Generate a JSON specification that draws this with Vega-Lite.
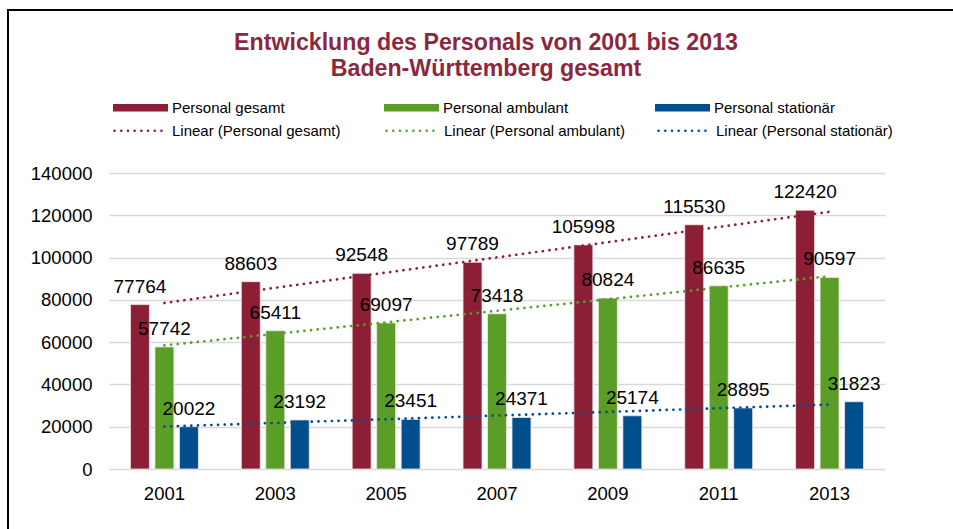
{
  "$schema": "https://vega.github.io/schema/vega-lite/v6.json",
  "width": 978,
  "height": 530,
  "autosize": {"type": "none"},
  "padding": {"left": 8, "top": 10, "right": 0, "bottom": 0},
  "config": {
    "font": "Liberation Sans",
    "view": {"stroke": "#000000", "strokeWidth": 2},
    "axis": {"labelFont": "Liberation Sans", "labelColor": "#000000"}
  },
  "title": {
    "text": ["Entwicklung des Personals von 2001 bis 2013", "Baden-Württemberg gesamt"],
    "anchor": "middle",
    "frame": "group",
    "dx": -11,
    "offset": -71,
    "baseline": "top",
    "fontSize": 23.2,
    "lineHeight": 26,
    "fontWeight": "bold",
    "font": "Liberation Sans",
    "color": "#8B2840"
  },
  "datasets": {
    "bars": [
      {"year": "2001", "series": "Personal gesamt", "value": 77764},
      {"year": "2001", "series": "Personal ambulant", "value": 57742},
      {"year": "2001", "series": "Personal stationär", "value": 20022},
      {"year": "2003", "series": "Personal gesamt", "value": 88603},
      {"year": "2003", "series": "Personal ambulant", "value": 65411},
      {"year": "2003", "series": "Personal stationär", "value": 23192},
      {"year": "2005", "series": "Personal gesamt", "value": 92548},
      {"year": "2005", "series": "Personal ambulant", "value": 69097},
      {"year": "2005", "series": "Personal stationär", "value": 23451},
      {"year": "2007", "series": "Personal gesamt", "value": 97789},
      {"year": "2007", "series": "Personal ambulant", "value": 73418},
      {"year": "2007", "series": "Personal stationär", "value": 24371},
      {"year": "2009", "series": "Personal gesamt", "value": 105998},
      {"year": "2009", "series": "Personal ambulant", "value": 80824},
      {"year": "2009", "series": "Personal stationär", "value": 25174},
      {"year": "2011", "series": "Personal gesamt", "value": 115530},
      {"year": "2011", "series": "Personal ambulant", "value": 86635},
      {"year": "2011", "series": "Personal stationär", "value": 28895},
      {"year": "2013", "series": "Personal gesamt", "value": 122420},
      {"year": "2013", "series": "Personal ambulant", "value": 90597},
      {"year": "2013", "series": "Personal stationär", "value": 31823}
    ],
    "trend": [
      {"year": "2001", "series": "Linear (Personal gesamt)", "value": 78528},
      {"year": "2013", "series": "Linear (Personal gesamt)", "value": 121658},
      {"year": "2001", "series": "Linear (Personal ambulant)", "value": 58453},
      {"year": "2013", "series": "Linear (Personal ambulant)", "value": 91183},
      {"year": "2001", "series": "Linear (Personal stationär)", "value": 20075},
      {"year": "2013", "series": "Linear (Personal stationär)", "value": 30475}
    ]
  },
  "encoding": {
    "x": {
      "field": "year",
      "type": "ordinal",
      "scale": {"range": [101, 877], "paddingInner": 0.387, "paddingOuter": 0.1935},
      "axis": {
        "title": null,
        "orient": "bottom",
        "offset": -56,
        "labelPadding": 0,
        "tickSize": 0,
        "ticks": false,
        "domain": false,
        "labelAngle": 0,
        "labelBaseline": "top",
        "labelFontSize": 18.5,
        "labelColor": "#000000"
      }
    },
    "y": {
      "field": "value",
      "type": "quantitative",
      "scale": {"domain": [0, 140000], "range": [459, 163], "nice": false, "zero": true},
      "axis": {
        "title": null,
        "values": [0, 20000, 40000, 60000, 80000, 100000, 120000, 140000],
        "format": "d",
        "offset": -84,
        "labelPadding": 0,
        "tickSize": 0,
        "ticks": false,
        "domain": false,
        "grid": true,
        "gridColor": "#d9d9d9",
        "gridWidth": 1.5,
        "labelFontSize": 18.5,
        "labelColor": "#000000"
      }
    }
  },
  "layer": [
    {
      "data": {"name": "bars"},
      "mark": {"type": "bar", "stroke": "#f2e6e9", "strokeWidth": 0.8},
      "encoding": {
        "xOffset": {
          "field": "series",
          "type": "nominal",
          "sort": ["Personal gesamt", "Personal ambulant", "Personal stationär"],
          "scale": {"paddingInner": 0.225, "paddingOuter": 0}
        },
        "color": {
          "field": "series",
          "type": "nominal",
          "sort": ["Personal gesamt", "Personal ambulant", "Personal stationär"],
          "scale": {
            "domain": ["Personal gesamt", "Personal ambulant", "Personal stationär"],
            "range": ["#8C1F36", "#5A9E28", "#004E8E"]
          },
          "legend": {
            "title": null,
            "orient": "none",
            "legendX": 105,
            "legendY": 70,
            "direction": "horizontal",
            "columns": 3,
            "gridAlign": "all",
            "columnPadding": 86,
            "padding": 0,
            "symbolType": "M-1,-0.14L1,-0.14L1,0.14L-1,0.14Z",
            "symbolSize": 3025,
            "symbolStrokeWidth": 0,
            "symbolOpacity": 1,
            "labelFontSize": 15,
            "labelOffset": 4,
            "labelLimit": 300,
            "labelColor": "#000000"
          }
        }
      }
    },
    {
      "data": {"name": "bars"},
      "mark": {"type": "text", "baseline": "alphabetic", "align": "center", "dy": -12, "fontSize": 19, "color": "#000000"},
      "encoding": {
        "xOffset": {
          "field": "series",
          "type": "nominal",
          "sort": ["Personal gesamt", "Personal ambulant", "Personal stationär"]
        },
        "text": {"field": "value", "type": "quantitative", "format": "d"}
      }
    },
    {
      "data": {"name": "trend"},
      "mark": {"type": "line", "strokeWidth": 2.7, "strokeCap": "round", "strokeDash": [0.1, 6.6]},
      "encoding": {
        "color": {
          "field": "series",
          "type": "nominal",
          "sort": ["Linear (Personal gesamt)", "Linear (Personal ambulant)", "Linear (Personal stationär)"],
          "scale": {
            "domain": ["Linear (Personal gesamt)", "Linear (Personal ambulant)", "Linear (Personal stationär)"],
            "range": ["#8C1F36", "#5A9E28", "#004E8E"]
          },
          "legend": {
            "title": null,
            "orient": "none",
            "legendX": 105,
            "legendY": 94,
            "direction": "horizontal",
            "columns": 3,
            "gridAlign": "all",
            "columnPadding": 28,
            "padding": 0,
            "symbolType": "stroke",
            "symbolSize": 2500,
            "symbolStrokeWidth": 2.5,
            "symbolDash": [0.1, 6.6],
            "labelFontSize": 15,
            "labelOffset": 6,
            "labelLimit": 300,
            "labelColor": "#000000",
            "encode": {"symbols": {"update": {"strokeCap": {"value": "round"}}}}
          }
        }
      }
    }
  ],
  "resolve": {"scale": {"color": "independent"}, "legend": {"color": "independent"}}
}
